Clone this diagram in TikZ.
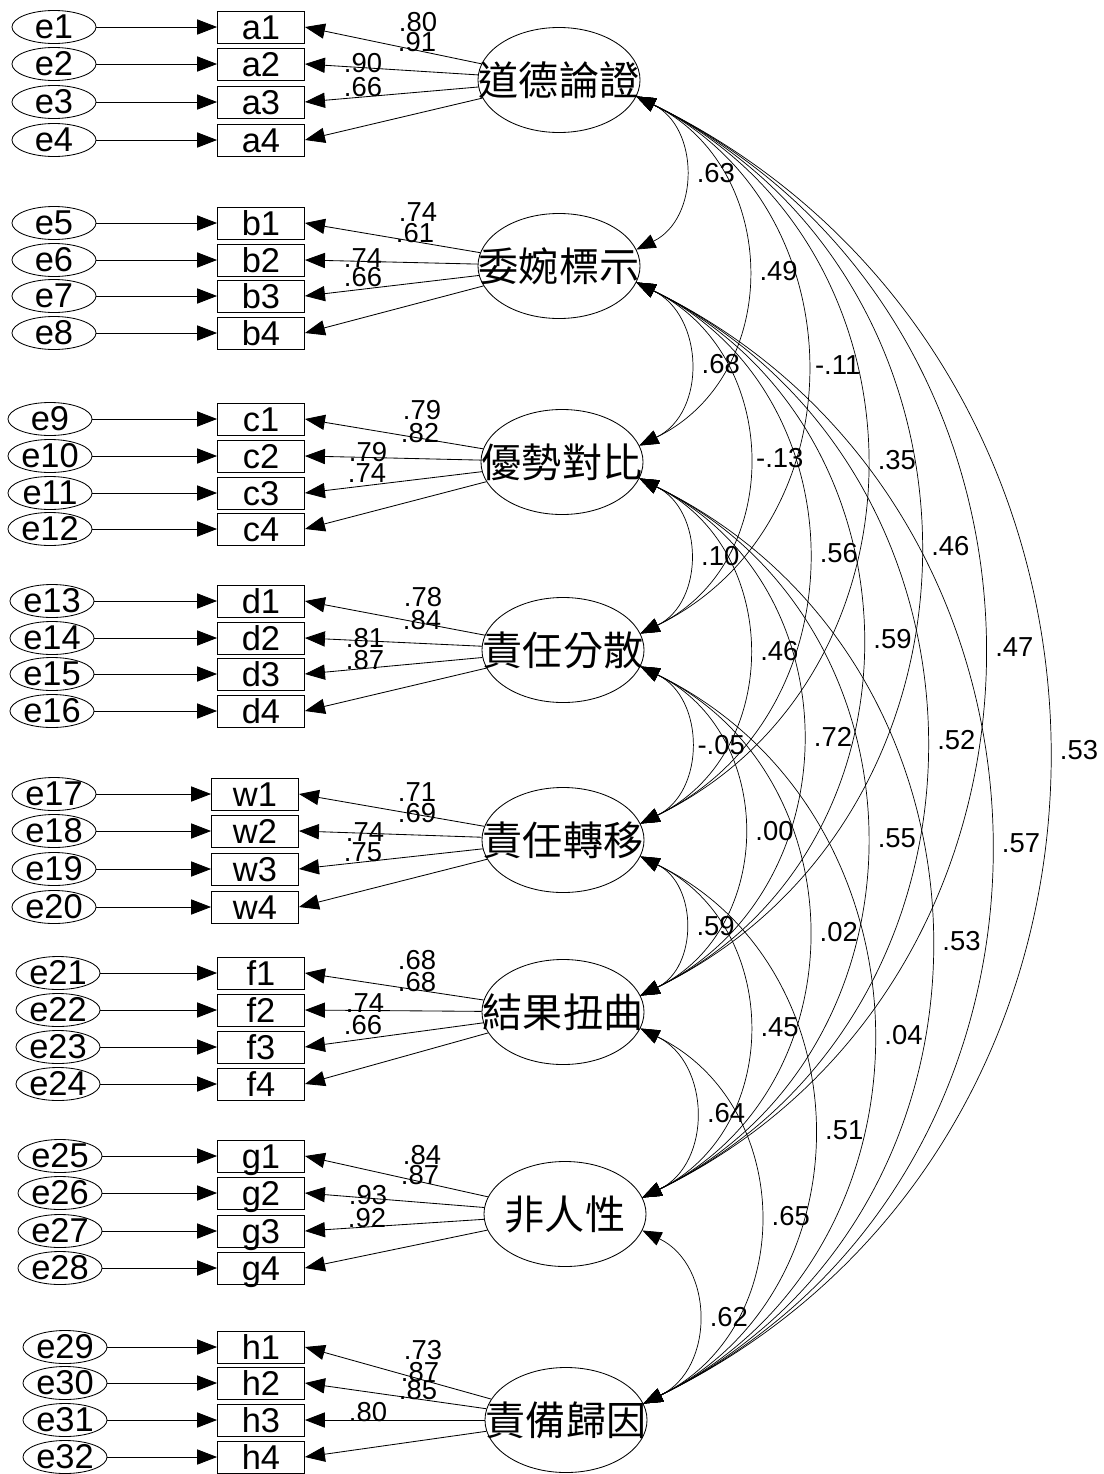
\documentclass[tikz,border=0pt]{standalone}
\usepackage{fontspec}
\setmainfont{Liberation Sans}
\newfontfamily\cjkfont{Noto Sans CJK TC}
\usetikzlibrary{arrows.meta,shapes.geometric}

\tikzset{
  errtext/.style={font=\fontsize{24.5}{24.5}\selectfont},
  factext/.style={font=\cjkfont\fontsize{28.5}{30}\selectfont},
  errnode/.style={draw, ellipse, line width=0.6pt, minimum width=2.1cm, minimum height=0.825cm, inner sep=0pt, label={[errtext]center:#1}},
  obsbox/.style={draw, rectangle, line width=0.6pt, minimum width=2.175cm, minimum height=0.8cm, inner sep=0pt, text height=17.5pt, text depth=0pt, font=\fontsize{24.5}{24.5}\selectfont},
  latent/.style={draw, ellipse, line width=0.6pt, minimum width=4.05cm, minimum height=2.625cm, inner sep=0pt, label={[factext]center:#1}},
  coef/.style={font=\fontsize{19.5}{19.5}\selectfont, inner sep=0pt},
  path/.style={-{Triangle[length=0.5cm,width=0.38cm]}, line width=0.6pt},
  cov/.style={{Triangle[length=0.48cm,width=0.36cm]}-{Triangle[length=0.48cm,width=0.36cm]}, line width=0.5pt}
}

\begin{document}
\begin{tikzpicture}[x=0.025cm, y=-0.025cm]
    \useasboundingbox (0,0) rectangle (1104,1474);

    % Latent factors
    \node[latent=道德論證] (fa) at (559,80) {};
    \node[latent=委婉標示] (fb) at (559,266) {};
    \node[latent=優勢對比] (fc) at (562,462) {};
    \node[latent=責任分散] (fd) at (563,650) {};
    \node[latent=責任轉移] (fw) at (563,840) {};
    \node[latent=結果扭曲] (ff) at (563,1012) {};
    \node[latent=非人性] (fg) at (565,1214) {};
    \node[latent=責備歸因] (fh) at (566,1420) {};

    % Indicators with their error terms
    \foreach \f/\bx/\ex/\n/\ya/\yb/\yc/\yd in {
        a/261/54/0/27/64/102/140, b/261/54/4/223/260/296/333,
        c/261/50/8/419/456/493/529, d/261/52/12/601/638/674/711,
        w/255/54/16/794/831/869/907, f/261/58/20/973/1010/1047/1084,
        g/261/60/24/1156/1193/1231/1268, h/261/65/28/1347/1383/1420/1457}{
      \foreach \k/\y in {1/\ya, 2/\yb, 3/\yc, 4/\yd}{
        \pgfmathtruncatemacro\en{\n+\k}
        \node[obsbox] (\f\k) at (\bx,\y) {\f\k};
        \node[errnode=e\en] (e\en) at (\ex,\y) {};
        \draw[path] (e\en) -- (\f\k);
        \draw[path] (f\f) -- (\f\k.east);
      }
    }

    % Standardized loadings
    \foreach \x/\y/\v [count=\c] in {
        418/22/.80, 417/42/.91, 363/63/.90, 363/87/.66,
        418/212/.74, 415/233/.61, 363/258/.74, 363/277/.66,
        422/410/.79, 420/433/.82, 368/452/.79, 367/473/.74,
        423/597/.78, 422/620/.84, 365/638/.81, 365/660/.87,
        417/792/.71, 417/813/.69, 365/832/.74, 363/852/.75,
        417/960/.68, 417/982/.68, 365/1003/.74, 363/1025/.66,
        422/1155/.84, 420/1175/.87, 368/1195/.93, 367/1218/.92,
        423/1350/.73, 420/1372/.87, 418/1390/.85, 368/1412/.80}
      \node[coef] (ld\c) at (\x,\y) {\v};

    % Factor correlations
    \foreach \p/\q/\v [count=\c] in {
        a/b/.63, a/c/.49, a/d/-.11, a/w/.35, a/f/.46, a/g/.47, a/h/.53,
        b/c/.68, b/d/-.13, b/w/.56, b/f/.59, b/g/.52, b/h/.57,
        c/d/.10, c/w/.46, c/f/.72, c/g/.55, c/h/.53,
        d/w/-.05, d/f/.00, d/g/.02, d/h/.04,
        w/f/.59, w/g/.45, w/h/.51,
        f/g/.64, f/h/.65,
        g/h/.62}
      \draw[cov] (f\p.-12) to[out=-26, in=26, looseness=1.18]
          node[coef, pos=0.5, xshift=0.8cm] (r\c) {\v} (f\q.12);
\end{tikzpicture}
\end{document}
